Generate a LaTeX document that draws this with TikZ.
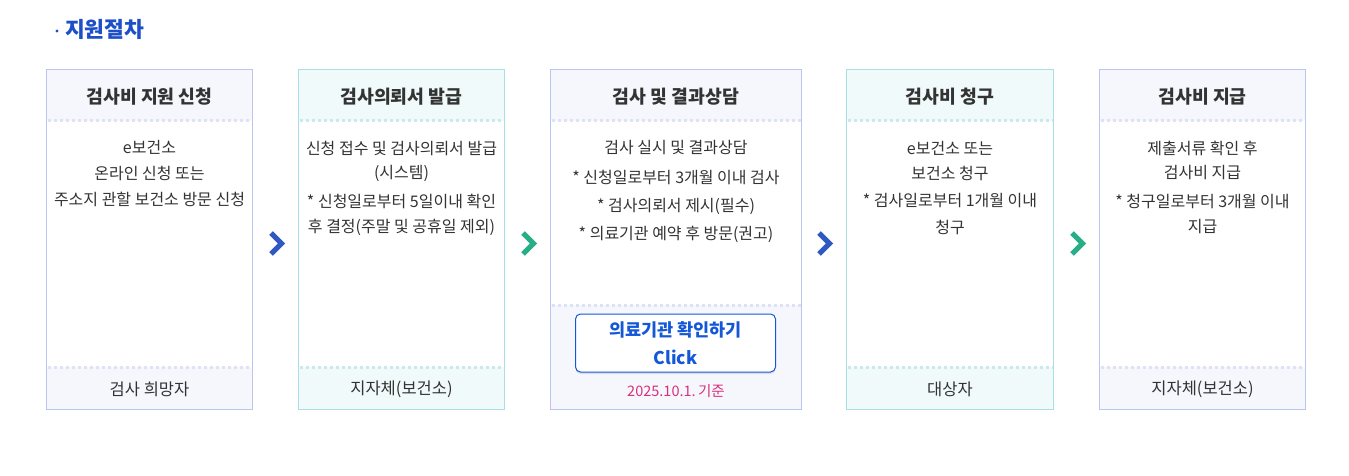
\documentclass[tikz,border=0pt]{standalone}
\usepackage{fontspec}
\setmainfont{Noto Sans CJK KR}
\usetikzlibrary{shadows}
\definecolor{txt}{HTML}{333333}
\definecolor{bB}{HTML}{BCC4F4}
\definecolor{bC}{HTML}{A9E0E6}
\definecolor{fB}{HTML}{F6F7FD}
\definecolor{fC}{HTML}{F1FAFB}
\definecolor{dB}{HTML}{DDE2F6}
\definecolor{dC}{HTML}{CCE8EC}
\definecolor{arB}{HTML}{2F58C0}
\definecolor{arG}{HTML}{28AE86}
\definecolor{ttl}{HTML}{1D4FC8}
\definecolor{btn}{HTML}{1458D8}
\definecolor{pink}{HTML}{D8307C}
\tikzset{
  hd/.style={font=\fontsize{18.3}{22}\selectfont\bfseries, text=txt, anchor=center},
  bd/.style={font=\fontsize{16}{19}\selectfont, text=txt, anchor=center},
  ft/.style={font=\fontsize{16.5}{19}\selectfont, text=txt, anchor=center},
  chev/.style={line width=5pt, line join=miter},
  dotl/.style={line width=3pt, dash pattern=on 3pt off 3pt},
}
\begin{document}
\begin{tikzpicture}[x=1pt,y=-1pt]
\useasboundingbox (0,0) rectangle (1349,476);
\fill[white] (0,0) rectangle (1349,476);
\fill[ttl] (57,31) circle (1.6pt);
\coordinate (dot) at (57,31);
\node[font=\fontsize{21.5}{24}\selectfont\bfseries, text=ttl, anchor=base west, inner sep=0pt] (title) at (65,38) {지원절차};
% generic box macro
\newcommand{\stepbox}[6]{% name, x1, x2, border, fill, dot
  \fill[#5] (#2,70) rectangle (#3,121);
  \fill[#5] (#2,367) rectangle (#3,409);
  \draw[#4, line width=1pt] (#2,70) rectangle (#3,409);
  \coordinate (#1) at ({(#2+#3)/2},70);
  \draw[#6, dotl] (#2+1,121) -- (#3-1,121);
  \draw[#6, dotl] (#2+1,367) -- (#3-1,367);
}
% Box 1
\stepbox{b1}{46.5}{252.5}{bB}{fB}{dB}
\node[hd] (h1) at (149.5,97) {검사비 지원 신청};
\node[bd] (t1a) at (149.5,147) {e보건소};
\node[bd] (t1b) at (149.5,173) {온라인 신청 또는};
\node[bd] (t1c) at (149.5,199) {주소지 관할 보건소 방문 신청};
\node[ft] (f1) at (149.5,389) {검사 희망자};
% Box 2
\stepbox{b2}{298.5}{504.5}{bC}{fC}{dC}
\node[hd] (h2) at (401.5,97) {검사의뢰서 발급};
\node[bd] (t2a) at (401.5,148) {신청 접수 및 검사의뢰서 발급};
\node[bd] (t2b) at (401.5,173) {(시스템)};
\node[bd] (t2c) at (401.5,201) {* 신청일로부터 5일이내 확인};
\node[bd] (t2d) at (401.5,227) {후 결정(주말 및 공휴일 제외)};
\node[ft] (f2) at (401.5,389) {지자체(보건소)};
% Box 3
\fill[fB] (550.5,70) rectangle (801.5,121);
\fill[fB] (550.5,305) rectangle (801.5,409);
\draw[bB, line width=1pt] (550.5,70) rectangle (801.5,409);
\draw[dB, dotl] (551.5,121) -- (800.5,121);
\draw[dB, dotl] (551.5,305) -- (800.5,305);
\node[hd] (h3) at (676,97) {검사 및 결과상담};
\node[bd] (t3a) at (676,148) {검사 실시 및 결과상담};
\node[bd] (t3b) at (676,177) {* 신청일로부터 3개월 이내 검사};
\node[bd] (t3c) at (676,206) {* 검사의뢰서 제시(필수)};
\node[bd] (t3d) at (676,234) {* 의료기관 예약 후 방문(권고)};
\node[draw=btn, line width=1pt, fill=white, rounded corners=5pt, minimum width=200pt, minimum height=58pt, inner sep=0pt,
  drop shadow={shadow xshift=0pt, shadow yshift=-2pt, opacity=0.18, fill=black!60}] (btn) at (675.5,343) {};
\node[font=\fontsize{17.5}{20}\selectfont\bfseries, text=btn] (btn1) at (675.5,330) {의료기관 확인하기};
\node[font=\fontsize{17.5}{20}\selectfont\bfseries, text=btn] (btn2) at (675.5,357) {Click};
\node[font=\fontsize{14.5}{18}\selectfont, text=pink] (date) at (676,391) {2025.10.1.\,기준};
% Box 4
\stepbox{b4}{846.5}{1053.5}{bC}{fC}{dC}
\node[hd] (h4) at (950,97) {검사비 청구};
\node[bd] (t4a) at (950,148) {e보건소 또는};
\node[bd] (t4b) at (950,173) {보건소 청구};
\node[bd] (t4c) at (950,201) {* 검사일로부터 1개월 이내};
\node[bd] (t4d) at (950,227) {청구};
\node[ft] (f4) at (950,389) {대상자};
% Box 5
\stepbox{b5}{1099.5}{1305.5}{bB}{fB}{dB}
\node[hd] (h5) at (1202.5,97) {검사비 지급};
\node[bd] (t5a) at (1202.5,148) {제출서류 확인 후};
\node[bd] (t5b) at (1202.5,173) {검사비 지급};
\node[bd] (t5c) at (1202.5,201) {* 청구일로부터 3개월 이내};
\node[bd] (t5d) at (1202.5,227) {지급};
\node[ft] (f5) at (1202.5,389) {지자체(보건소)};
% chevrons
\draw[arB, chev] (271,233) -- (281.5,243.5) -- (271,254);
\draw[arG, chev] (523,233) -- (533.5,243.5) -- (523,254);
\draw[arB, chev] (819,233) -- (829.5,243.5) -- (819,254);
\draw[arG, chev] (1072,233) -- (1082.5,243.5) -- (1072,254);
\end{tikzpicture}
\end{document}
